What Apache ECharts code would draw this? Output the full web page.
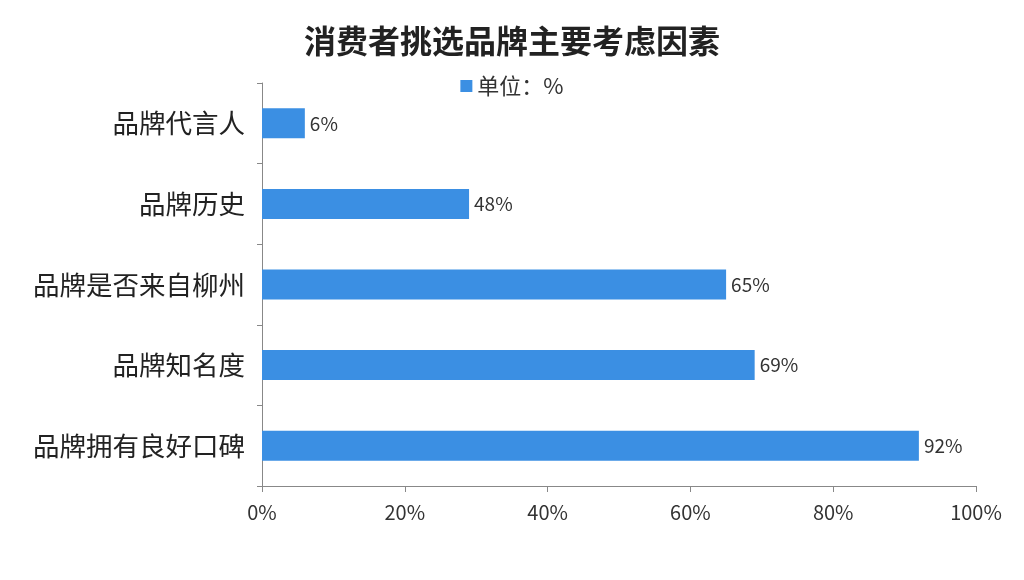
<!DOCTYPE html>
<html>
<head>
<meta charset="utf-8">
<script src="https://cdn.jsdelivr.net/npm/echarts@6/dist/echarts.min.js"></script>
<style>
html,body{margin:0;padding:0;background:#fff;}
#chart{width:1024px;height:580px;}
</style>
</head>
<body>
<div id="chart"></div>
<script>
// Categories listed bottom to top (category axis on y starts at bottom)
var categories = ['品牌拥有良好口碑', '品牌知名度', '品牌是否来自柳州', '品牌历史', '品牌代言人'];
// Bar lengths as drawn in the picture (percent)
var values = [92, 69, 65, 29, 6];
// Label texts as printed in the picture
var valueLabels = ['92%', '69%', '65%', '48%', '6%'];
var xTicks = [0, 20, 40, 60, 80, 100];
var seriesName = '单位：%';
var titleText = '消费者挑选品牌主要考虑因素';

var chart = echarts.init(document.getElementById('chart'));
var font = '"Noto Sans CJK SC", "Noto Sans", sans-serif';
chart.setOption({
  animation: false,
  backgroundColor: '#ffffff',
  title: {
    text: titleText,
    left: 'center',
    top: 20,
    textStyle: { fontFamily: font, fontSize: 32, fontWeight: 'bold', color: '#222' }
  },
  legend: {
    data: [seriesName],
    top: 70,
    left: 'center',
    itemWidth: 12,
    itemHeight: 12,
    icon: 'rect',
    itemGap: 4,
    textStyle: { fontFamily: font, fontSize: 22, color: '#333' }
  },
  grid: { left: 262, right: 48, top: 83, bottom: 94, containLabel: false },
  xAxis: {
    type: 'value',
    min: xTicks[0],
    max: xTicks[xTicks.length - 1],
    interval: 20,
    axisLine: { show: true, lineStyle: { color: '#888', width: 1 } },
    axisTick: { show: true, length: 6, lineStyle: { color: '#888' } },
    splitLine: { show: false },
    axisLabel: {
      formatter: '{value}%',
      fontFamily: font,
      fontSize: 20,
      color: '#333',
      margin: 16
    }
  },
  yAxis: {
    type: 'category',
    data: categories,
    axisLine: { show: true, lineStyle: { color: '#888', width: 1 } },
    axisTick: { show: true, length: 5, alignWithLabel: false, lineStyle: { color: '#888' } },
    axisLabel: { fontFamily: font, fontSize: 26.5, color: '#222', margin: 17 }
  },
  series: [{
    name: seriesName,
    type: 'bar',
    data: values,
    barWidth: 30,
    itemStyle: { color: '#3b8fe3' },
    label: {
      show: true,
      position: 'right',
      distance: 5,
      fontFamily: font,
      fontSize: 19,
      color: '#333',
      formatter: function (p) { return valueLabels[p.dataIndex]; }
    }
  }]
});
</script>
</body>
</html>
